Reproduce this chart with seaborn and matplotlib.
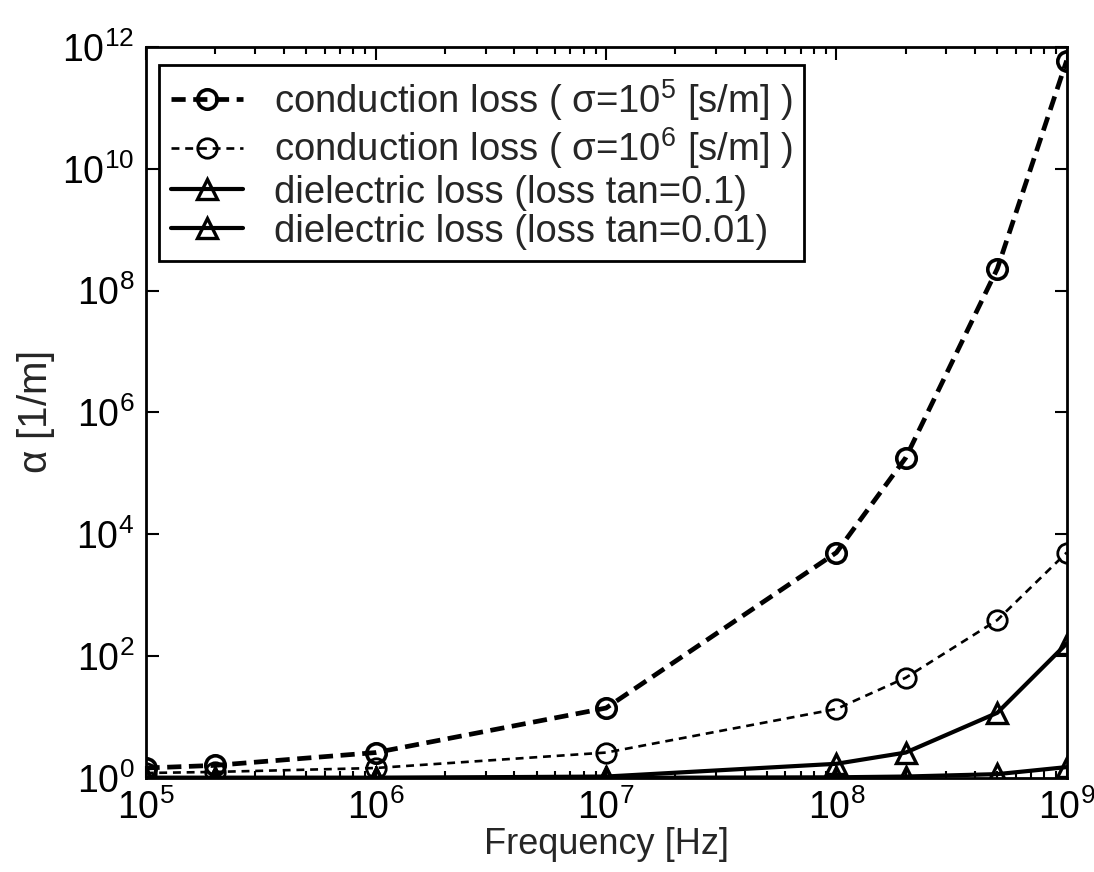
import matplotlib
matplotlib.use("Agg")
import matplotlib.pyplot as plt
import matplotlib.ticker as mticker
import seaborn as sns
import pandas as pd

# Frequencies where alpha was evaluated [Hz]
freq = [1e5, 2e5, 1e6, 1e7, 1e8, 2e8, 5e8, 1e9]

# Attenuation values [1/m]
cond_sigma_1e5 = [1.45, 1.6, 2.6, 14, 5000, 1.8e5, 2.3e8, 6e11]
cond_sigma_1e6 = [1.2, 1.25, 1.45, 2.6, 13.5, 44, 390, 5000]
diel_tan_01 = [1.0, 1.0, 1.0, 1.05, 1.7, 2.6, 11.7, 160]
diel_tan_001 = [1.0, 1.0, 1.0, 1.0, 1.02, 1.05, 1.15, 1.5]

labels = [
    r"conduction loss ( $\sigma$=10$^5$ [s/m] )",
    r"conduction loss ( $\sigma$=10$^6$ [s/m] )",
    "dielectric loss (loss tan=0.1)",
    "dielectric loss (loss tan=0.01)",
]

sns.set_style("ticks")
plt.rcParams['font.family'] = ['Liberation Sans', 'DejaVu Sans']
plt.rcParams['mathtext.fontset'] = 'custom'
plt.rcParams['mathtext.rm'] = 'Liberation Sans'
plt.rcParams['mathtext.it'] = 'Liberation Sans'
plt.rcParams['mathtext.sf'] = 'Liberation Sans'

fig = plt.figure(figsize=(10.94, 8.72), dpi=100)
ax = fig.add_axes([0.133, 0.108, 0.842, 0.838])

styles = [
    dict(ls=(0, (3, 1.6)), lw=3.4, marker='o', mew=2.6),
    dict(ls=(0, (3, 2.2)), lw=1.9, marker='o', mew=2.0),
    dict(ls='-', lw=3.0, marker='^', mew=2.4),
    dict(ls='-', lw=3.0, marker='^', mew=2.4),
]
series = [cond_sigma_1e5, cond_sigma_1e6, diel_tan_01, diel_tan_001]

for vals, lab, st in zip(series, labels, styles):
    df = pd.DataFrame({'freq': freq, 'alpha': vals})
    sns.lineplot(data=df, x='freq', y='alpha', ax=ax, color='black',
                 linestyle=st['ls'], linewidth=st['lw'], marker=st['marker'],
                 markersize=14, markerfacecolor='none', markeredgecolor='black',
                 markeredgewidth=st['mew'], label=lab)

ax.set_xscale('log')
ax.set_yscale('log')
ax.set_xlim(1e5, 1e9)
ax.set_ylim(1, 1e12)
ax.yaxis.set_major_locator(mticker.FixedLocator([10.0 ** k for k in range(0, 13, 2)]))
ax.yaxis.set_major_formatter(mticker.LogFormatterMathtext())
ax.yaxis.set_minor_locator(mticker.NullLocator())
ax.xaxis.set_major_locator(mticker.FixedLocator([10.0 ** k for k in range(5, 10)]))
ax.xaxis.set_major_formatter(mticker.LogFormatterMathtext())
ax.xaxis.set_minor_locator(mticker.LogLocator(base=10, subs=range(2, 10)))

ax.tick_params(which='both', direction='in', top=True, right=True, labelsize=27,
               width=1.5, color='black', labelcolor='black')
ax.tick_params(which='major', length=9, pad=8)
ax.tick_params(which='minor', length=5)
for sp in ax.spines.values():
    sp.set_linewidth(2)
    sp.set_color('black')

ax.set_xlabel("Frequency [Hz]", fontsize=26, labelpad=0)
ax.set_ylabel(r"$\alpha$ [1/m]", fontsize=29, labelpad=4)

leg = ax.legend(loc='upper left', bbox_to_anchor=(0.015, 0.975), fontsize=27.5,
                frameon=True, fancybox=False, edgecolor='black', framealpha=1,
                handlelength=1.9, handletextpad=0.8, labelspacing=0.08,
                borderpad=0.3, borderaxespad=0)
leg.get_frame().set_linewidth(2)

fig.savefig("out.png", dpi=100, facecolor='white')
